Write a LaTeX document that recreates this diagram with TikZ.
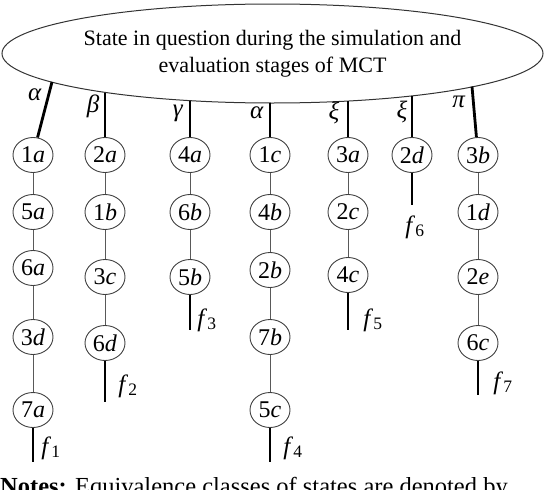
\documentclass[tikz,border=0pt]{standalone}
\usepackage{fontspec}
\setmainfont{Liberation Serif}
\usepackage{tikz}
\usetikzlibrary{positioning,shapes.geometric}

\begin{document}
\begin{tikzpicture}[x=1pt,y=-1pt, st/.style={draw=black!75,line width=0.9pt,ellipse,minimum width=40pt,minimum height=35pt,inner sep=0pt,font=\fontsize{24}{24}\selectfont}, lnk/.style={draw=black!65,line width=0.9pt}, tail/.style={line width=2.8pt}, lbl/.style={inner sep=0pt,font=\fontsize{25}{25}\selectfont}]
\useasboundingbox (0,0) rectangle (544,490);
\node[draw=black!80,ellipse,line width=1pt,minimum width=541pt,minimum height=99pt,inner sep=0pt,align=center,font=\fontsize{22}{27}\selectfont] (S) at (272.5,53.5) {State in question during the simulation and\\ evaluation stages of MCT};
\coordinate (e1) at (52,82);
\coordinate (e2) at (105,92.5);
\coordinate (e3) at (190,100.6);
\coordinate (e4) at (270,103);
\coordinate (e5) at (348,101);
\coordinate (e6) at (412,96);
\coordinate (e7) at (472,86.5);
\node[st] (n1a) at (33,155) {1\textit{a}};
\node[st] (n5a) at (33,212) {5\textit{a}};
\node[st] (n6a) at (33,268) {6\textit{a}};
\node[st] (n3d) at (33,337) {3\textit{d}};
\node[st] (n7a) at (33,410) {7\textit{a}};
\node[st] (n2a) at (105,155) {2\textit{a}};
\node[st] (n1b) at (105,212) {1\textit{b}};
\node[st] (n3c) at (105,277) {3\textit{c}};
\node[st] (n6d) at (105,343) {6\textit{d}};
\node[st] (n4a) at (190,155) {4\textit{a}};
\node[st] (n6b) at (190,212) {6\textit{b}};
\node[st] (n5b) at (190,277) {5\textit{b}};
\node[st] (n1c) at (270,155) {1\textit{c}};
\node[st] (n4b) at (270,212) {4\textit{b}};
\node[st] (n2b) at (270,270) {2\textit{b}};
\node[st] (n7b) at (270,337) {7\textit{b}};
\node[st] (n5c) at (270,410) {5\textit{c}};
\node[st] (n3a) at (348,155) {3\textit{a}};
\node[st] (n2c) at (348,212) {2\textit{c}};
\node[st] (n4c) at (348,275) {4\textit{c}};
\node[st] (n2d) at (412,155) {2\textit{d}};
\node[st] (n3b) at (478,155) {3\textit{b}};
\node[st] (n1d) at (478,212) {1\textit{d}};
\node[st] (n2e) at (478,277) {2\textit{e}};
\node[st] (n6c) at (478,343) {6\textit{c}};
\coordinate (t1) at (33,462);
\coordinate (t2) at (105,402);
\coordinate (t3) at (190,330);
\coordinate (t4) at (270,462);
\coordinate (t5) at (348,330);
\coordinate (t6) at (412,205);
\coordinate (t7) at (478,395);
\draw[tail] (e1) -- (n1a);
\draw[tail] (e2) -- (n2a);
\draw[tail] (e3) -- (n4a);
\draw[tail] (e4) -- (n1c);
\draw[tail] (e5) -- (n3a);
\draw[tail] (e6) -- (n2d);
\draw[tail] (e7) -- (n3b);
\node[lbl] (g1) at (35,95) {\textit{α}};
\node[lbl] (g2) at (93,106) {\textit{β}};
\node[lbl] (g3) at (178,113) {\textit{γ}};
\node[lbl] (g4) at (257,113) {\textit{α}};
\node[lbl] (g5) at (334,113) {\textit{ξ}};
\node[lbl] (g6) at (402,112) {\textit{ξ}};
\node[lbl] (g7) at (459,102) {\textit{π}};
\draw[lnk] (n1a) -- (n5a) -- (n6a) -- (n3d) -- (n7a);
\draw[lnk] (n2a) -- (n1b) -- (n3c) -- (n6d);
\draw[lnk] (n4a) -- (n6b) -- (n5b);
\draw[lnk] (n1c) -- (n4b) -- (n2b) -- (n7b) -- (n5c);
\draw[lnk] (n3a) -- (n2c) -- (n4c);
\draw[lnk] (n3b) -- (n1d) -- (n2e) -- (n6c);
\draw[tail] (n7a) -- (t1);
\draw[tail] (n6d) -- (t2);
\draw[tail] (n5b) -- (t3);
\draw[tail] (n5c) -- (t4);
\draw[tail] (n4c) -- (t5);
\draw[tail] (n2d) -- (t6);
\draw[tail] (n6c) -- (t7);
\node[lbl] (f1) at (51,448) {\textit{f}\textsubscript{1}};
\node[lbl] (f2) at (128,386) {\textit{f}\textsubscript{2}};
\node[lbl] (f3) at (207,320) {\textit{f}\textsubscript{3}};
\node[lbl] (f4) at (293,448) {\textit{f}\textsubscript{4}};
\node[lbl] (f5) at (373,320) {\textit{f}\textsubscript{5}};
\node[lbl] (f6) at (415,227) {\textit{f}\textsubscript{6}};
\node[lbl] (f7) at (503,383) {\textit{f}\textsubscript{7}};
\node[anchor=base west,inner sep=0pt,font=\fontsize{24.5}{24.5}\selectfont] (notes) at (0,494) {\textbf{Notes:} Equivalence classes of states are denoted by};
\end{tikzpicture}
\end{document}
